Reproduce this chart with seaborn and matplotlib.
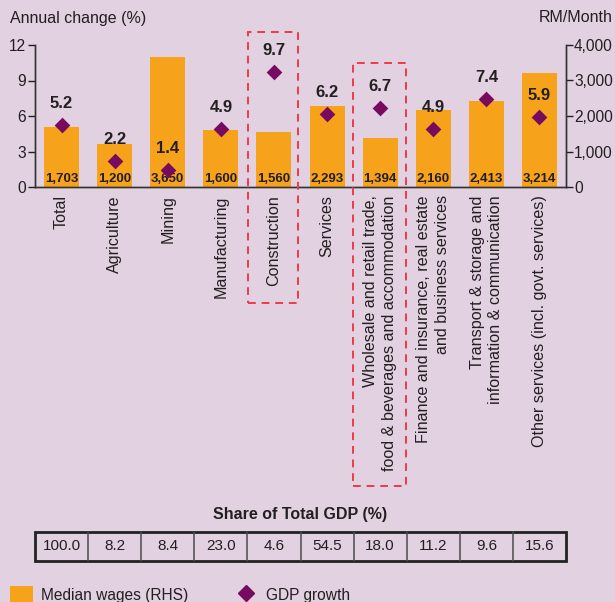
import matplotlib
matplotlib.use("Agg")
import matplotlib.pyplot as plt
from matplotlib.patches import Rectangle, Patch
from matplotlib.lines import Line2D
from matplotlib.ticker import FuncFormatter, FixedLocator
import seaborn as sns
import pandas as pd

# ---- data ----
categories = [
    "Total", "Agriculture", "Mining", "Manufacturing", "Construction", "Services",
    "Wholesale and retail trade,\nfood & beverages and accommodation",
    "Finance and insurance, real estate\nand business services",
    "Transport & storage and\ninformation & communication",
    "Other services (incl. govt. services)",
]
median_wages = [1703, 1200, 3650, 1600, 1560, 2293, 1394, 2160, 2413, 3214]
gdp_growth = [5.2, 2.2, 1.4, 4.9, 9.7, 6.2, 6.7, 4.9, 7.4, 5.9]
gdp_share = [100.0, 8.2, 8.4, 23.0, 4.6, 54.5, 18.0, 11.2, 9.6, 15.6]
left_ticks = [0, 3, 6, 9, 12]
right_ticks = [0, 1000, 2000, 3000, 4000]

BG = "#E1D1E1"
ORANGE = "#F7A21B"
PURPLE = "#780A60"
RED = "#EE3B45"
TXT = "#231F20"

sns.set_style("white")
plt.rcParams["font.family"] = ["Liberation Sans", "DejaVu Sans"]
plt.rcParams["text.color"] = TXT
plt.rcParams["axes.labelcolor"] = TXT
plt.rcParams["xtick.color"] = TXT
plt.rcParams["ytick.color"] = TXT

W, H = 615, 602
fig = plt.figure(figsize=(W / 100, H / 100), dpi=100, facecolor=BG)

def fx(px):
    return px / W

def fy(py):
    return 1 - py / H

ax = fig.add_axes([fx(35), fy(187), fx(566 - 35), (187 - 45) / H])
ax2 = ax.twinx()
ax.set_zorder(2)
ax2.set_zorder(1)
ax.patch.set_visible(False)
ax2.patch.set_visible(False)

df = pd.DataFrame({"cat": categories, "wages": median_wages, "growth": gdp_growth})

sns.barplot(data=df, x="cat", y="wages", order=categories, color=ORANGE,
            saturation=1, width=0.66, ax=ax2, linewidth=0)
sns.stripplot(data=df, x="cat", y="growth", order=categories, jitter=False,
              marker="D", size=8, color=PURPLE, linewidth=0, ax=ax)

ax.set_xlim(-0.5, 9.5)
ax.set_ylim(0, 12)
ax2.set_ylim(0, 4000)
ax.set_yticks(left_ticks)
ax2.set_yticks(right_ticks)
ax2.yaxis.set_major_formatter(FuncFormatter(lambda v, p: f"{int(v):,}"))

for a in (ax, ax2):
    a.set_xlabel("")
    a.set_ylabel("")
    for s in a.spines.values():
        s.set_color("#333333")
        s.set_linewidth(1.0)
    a.spines["top"].set_visible(False)

ax.tick_params(axis="y", direction="out", length=5, width=1, labelsize=11.2, pad=1.5,
               left=True, right=False)
ax2.tick_params(axis="y", direction="out", length=5, width=1, labelsize=11.2, pad=0.8,
                right=True, left=False)

# x ticks: labels at centers, marks at boundaries
ax.set_xticks(range(len(categories)))
ax.set_xticklabels(categories, rotation=90, ha="center", va="top",
                   fontsize=11.6, linespacing=1.3, multialignment="right")
ax.tick_params(axis="x", which="major", length=0, pad=6)
ax.xaxis.set_minor_locator(FixedLocator([i - 0.5 for i in range(len(categories) + 1)]))
ax.tick_params(axis="x", which="minor", direction="inout", length=6, width=1, color="#333333")
ax2.tick_params(axis="x", length=0, labelbottom=False)

# labels
for i, (g, w) in enumerate(zip(gdp_growth, median_wages)):
    ax.annotate(f"{g:.1f}", (i, g), xytext=(0, 15.5), textcoords="offset points",
                ha="center", va="center", fontsize=12, fontweight="bold", color=TXT)
    ax2.annotate(f"{w:,}", (i, 0), xytext=(0, 6), textcoords="offset points",
                 ha="center", va="center", fontsize=9.5, fontweight="bold", color=TXT)

fig.text(fx(10), fy(18), "Annual change (%)", ha="left", va="center", fontsize=11.5)
fig.text(fx(613), fy(18), "RM/Month", ha="right", va="center", fontsize=11.5)

# dashed highlight boxes
for (x0, y0, x1, y1) in [(248, 32, 298, 303), (353, 63, 406, 486)]:
    fig.add_artist(Rectangle((fx(x0), fy(y1)), fx(x1 - x0), (y1 - y0) / H,
                             transform=fig.transFigure, fill=False, edgecolor=RED,
                             linewidth=1.4, linestyle=(0, (4, 3)), zorder=10))

# share of GDP table
fig.text(fx(300), fy(515), "Share of Total GDP (%)", ha="center", va="center",
         fontsize=11.5, fontweight="bold")
tax = fig.add_axes([fx(35), fy(561), fx(566 - 35), (561 - 532) / H])
tax.set_xlim(-0.5, 9.5)
tax.set_ylim(0, 1)
tax.axis("off")
for i in range(1, len(gdp_share)):
    tax.plot([i - 0.5, i - 0.5], [0, 1], color="#4a4a4a", lw=1.1, clip_on=False)
tax.add_patch(Rectangle((-0.5, 0), 10, 1, fill=False, edgecolor="#222222", lw=2, clip_on=False))
for i, v in enumerate(gdp_share):
    tax.text(i, 0.5, f"{v:.1f}", ha="center", va="center", fontsize=11, color=TXT)

# legend
handles = [Patch(facecolor=ORANGE, edgecolor="none"),
           Line2D([], [], marker="D", linestyle="none", color=PURPLE, markersize=8)]
fig.legend(handles, ["Median wages (RHS)", "GDP growth"], loc="center left",
           bbox_to_anchor=(fx(5), fy(595)), ncol=2, frameon=False, fontsize=11.2,
           handlelength=1.5, handleheight=1.5, handletextpad=0.5, columnspacing=3.0,
           borderaxespad=0, borderpad=0.3)

fig.savefig("out.png", dpi=100, facecolor=BG)
